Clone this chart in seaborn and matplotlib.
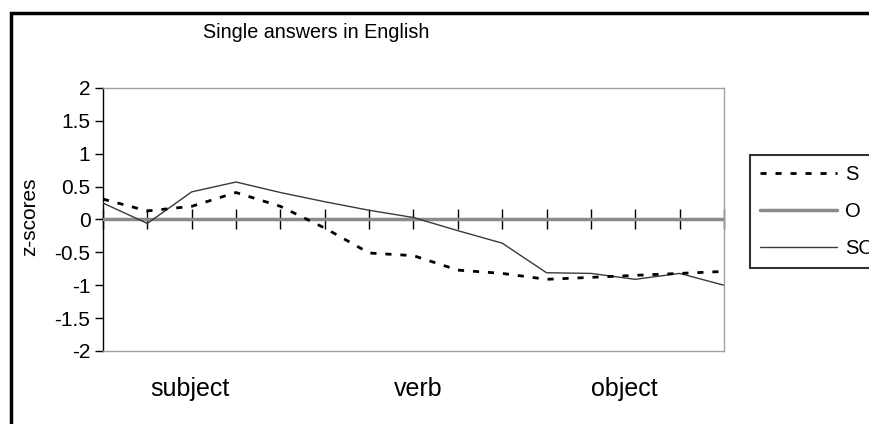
import numpy as np
import pandas as pd
import seaborn as sns
import matplotlib.pyplot as plt
from matplotlib.patches import Rectangle
from matplotlib.lines import Line2D

# values (15 points along the sentence)
positions = list(range(15))
s_vals = [0.31, 0.13, 0.20, 0.41, 0.20, -0.13, -0.51, -0.55, -0.77, -0.82,
          -0.91, -0.88, -0.85, -0.82, -0.79]
o_vals = [0.0] * 15
so_vals = [0.25, -0.06, 0.42, 0.57, 0.41, 0.27, 0.14, 0.03, -0.17, -0.36,
           -0.81, -0.82, -0.91, -0.82, -1.00]
region_labels = ["subject", "verb", "object"]
region_pos = [1.96, 7.1, 11.75]
y_ticks = [2, 1.5, 1, 0.5, 0, -0.5, -1, -1.5, -2]

df = pd.DataFrame({"pos": positions, "S": s_vals, "O": o_vals, "SO": so_vals})

sns.set_theme(style="white")
plt.rcParams["font.family"] = ["Liberation Sans", "DejaVu Sans"]

fig = plt.figure(figsize=(8.69, 4.24), dpi=100)
ax = fig.add_axes([0.1185, 0.1722, 0.7146, 0.6203])

sns.lineplot(data=df, x="pos", y="O", ax=ax, color="#8a8a8a", linewidth=2.5, zorder=3)
sns.lineplot(data=df, x="pos", y="SO", ax=ax, color="#3a3a3a", linewidth=1, zorder=4)
sns.lineplot(data=df, x="pos", y="S", ax=ax, color="black", linewidth=2,
             zorder=5).lines[-1].set_dashes((2.2, 3.2))

ax.set_xlim(0, 14)
ax.set_ylim(-2, 2)
ax.set_yticks(y_ticks)
ax.set_yticklabels([f"{v:g}" for v in y_ticks], fontsize=15, color="black")
ax.tick_params(axis="y", direction="out", length=6, width=1, color="black",
               left=True, pad=3)
ax.set_xticks([])
ax.set_xlabel("")
ax.set_ylabel("")

for side in ["top", "right", "bottom"]:
    ax.spines[side].set_color("#a0a0a0")
    ax.spines[side].set_linewidth(1)
ax.spines["left"].set_color("black")
ax.spines["left"].set_linewidth(1)

# category axis crossing at zero
zax = ax.secondary_xaxis(0.5)
zax.set_xticks(positions)
zax.set_xticklabels([])
zax.tick_params(direction="inout", length=14, width=1, color="black")
zax.spines["bottom"].set_color("#333333")
zax.spines["bottom"].set_linewidth(1)

for lab, p in zip(region_labels, region_pos):
    ax.text(p, -2.684, lab, ha="center", va="baseline", fontsize=18,
            color="black", clip_on=False)

fig.text(316 / 869, 1 - 33 / 424, "Single answers in English", ha="center",
         va="center", fontsize=14.2, color="black")
fig.text(30 / 869, 1 - 217 / 424, "z-scores", rotation=90, ha="center",
         va="center", fontsize=15, color="black")

# outer chart border
fig.patches.append(Rectangle((11 / 869, -0.1), 1.2, 1.1 - 13 / 424,
                             transform=fig.transFigure, fill=False,
                             edgecolor="black", linewidth=2.5))

handles = [
    Line2D([], [], color="black", linewidth=2, dashes=(2.2, 3.2)),
    Line2D([], [], color="#8a8a8a", linewidth=2.5),
    Line2D([], [], color="#3a3a3a", linewidth=1),
]
leg = fig.legend(handles, ["S", "O", "SO"], loc="upper left",
                 bbox_to_anchor=(750 / 869, 1 - 155 / 424), fontsize=14.5,
                 frameon=True, fancybox=False, handlelength=3.8,
                 handletextpad=0.4, borderpad=0.5, labelspacing=0.9,
                 borderaxespad=0)
leg.get_frame().set_edgecolor("black")
leg.get_frame().set_linewidth(1.5)
for t in leg.get_texts():
    t.set_color("black")

fig.savefig("out.png", dpi=100)
